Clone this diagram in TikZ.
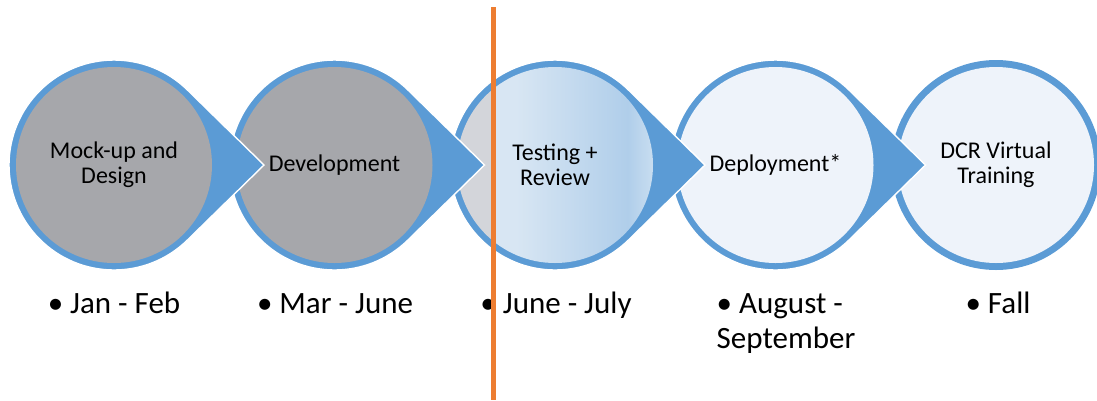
\documentclass[tikz,border=0pt]{standalone}
\usepackage{fontspec}
\setmainfont{Carlito}
\definecolor{stageblue}{RGB}{91, 155, 213}
\definecolor{stagegray}{RGB}{166, 167, 171}
\definecolor{stagepale}{RGB}{238, 243, 250}
\definecolor{testgray}{RGB}{211, 213, 218}
\definecolor{testlight}{RGB}{216, 230, 243}
\definecolor{testdeep}{RGB}{176, 206, 234}
\definecolor{testedge}{RGB}{200, 221, 240}
\definecolor{nowline}{RGB}{237, 125, 49}
\usetikzlibrary{calc}
% the node spans 25bp to 75bp of the shading
\pgfdeclarehorizontalshading{testshade}{100bp}{color(0bp)=(testgray); color(33.5bp)=(testgray); color(34bp)=(testlight); color(40bp)=(testlight); color(68.5bp)=(testdeep); color(75bp)=(testedge); color(100bp)=(testedge)}

\begin{document}
\begin{tikzpicture}[x=1pt, y=-1pt,
  stage/.style={circle, minimum size=196pt, inner sep=0pt, align=center, font=\fontsize{24}{25}\selectfont},
  drop/.style={fill=stageblue, draw=white, line width=1.4pt},
  when/.style={anchor=base, align=left, inner sep=0pt, font=\fontsize{31}{35}\selectfont}
]
  \useasboundingbox (0,0) rectangle (1097,400);

  % centres of the five stages
  \coordinate (c1) at (114,165);
  \coordinate (c2) at (334.5,165);
  \coordinate (c3) at (555,165);
  \coordinate (c4) at (775.5,165);
  \coordinate (c5) at (996,165);

  % last stage first, so every tip lies over the next circle
  \fill[stageblue] (c5) circle[radius=105];
  \node[stage, fill=stagepale] (training) at (c5) {DCR Virtual\\Training};

  \draw[drop] ($(c4)+(150,0)$) -- ($(c4)+(45.6:105)$) arc[start angle=45.6, end angle=314.4, radius=105] -- cycle;
  \node[stage, fill=stagepale] (deploy) at (c4) {Deployment*};

  \draw[drop] ($(c3)+(150,0)$) -- ($(c3)+(45.6:105)$) arc[start angle=45.6, end angle=314.4, radius=105] -- cycle;
  \node[stage, shading=testshade] (testing) at (c3) {Testing +\\Review};

  \draw[drop] ($(c2)+(150,0)$) -- ($(c2)+(45.6:105)$) arc[start angle=45.6, end angle=314.4, radius=105] -- cycle;
  \node[stage, fill=stagegray] (dev) at (c2) {Development};

  \draw[drop] ($(c1)+(150,0)$) -- ($(c1)+(45.6:105)$) arc[start angle=45.6, end angle=314.4, radius=105] -- cycle;
  \node[stage, fill=stagegray] (mockup) at (c1) {Mock-up and\\Design};

  % dates
  \node[when] (jan) at (114,313) {• Jan - Feb};
  \node[when] (mar) at (335,313) {• Mar - June};
  \node[when] (june) at (556,313) {• June - July};
  \node[when] (aug) at (786,348) {• August -\\September};
  \node[when] (fall) at (998,313) {• Fall};

  % today
  \coordinate (now top) at (493,7);
  \coordinate (now bottom) at (493,400);
  \draw[nowline, line width=5pt] (now top) -- (now bottom);
\end{tikzpicture}
\end{document}
